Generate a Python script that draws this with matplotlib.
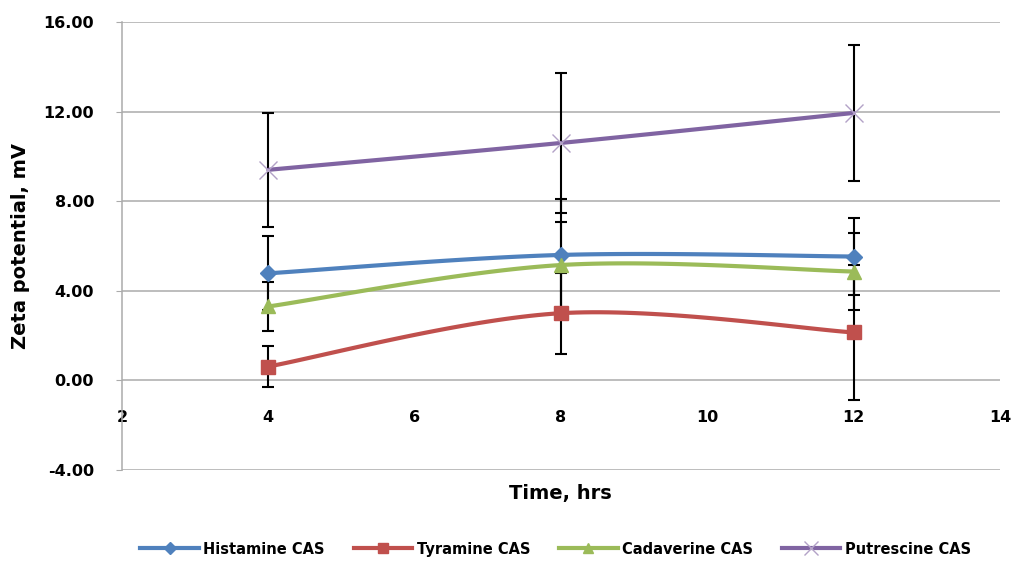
import matplotlib
matplotlib.use("Agg")
import matplotlib.pyplot as plt
import numpy as np
from matplotlib.lines import Line2D

# --- data ---------------------------------------------------------------
hours = [4, 8, 12]

histamine = [4.78, 5.60, 5.53]
tyramine = [0.62, 3.00, 2.14]
cadaverine = [3.30, 5.15, 4.86]
putrescine = [9.40, 10.60, 11.94]

histamine_err = [1.65, 2.50, 1.70]
tyramine_err = [0.90, 1.80, 3.00]
cadaverine_err = [1.10, 1.90, 1.70]
putrescine_err = [2.55, 3.13, 3.05]

names = ["Histamine CAS", "Tyramine CAS", "Cadaverine CAS", "Putrescine CAS"]
y_ticks = [-4, 0, 4, 8, 12, 16]
x_ticks = [2, 4, 6, 8, 10, 12, 14]

COLORS = ["#4F81BD", "#C0504D", "#9BBB59", "#8064A2"]
MARKERS = ["D", "s", "^", "x"]


def smooth(xs, ys, steps=40):
    """Excel-style smoothed line: cubic Bezier through the points."""
    p = np.column_stack([xs, ys]).astype(float)
    n = len(p)
    out = [p[:1]]
    t = np.linspace(0, 1, steps)[1:, None]
    for i in range(n - 1):
        prev = p[max(i - 1, 0)]
        nxt = p[min(i + 2, n - 1)]
        c1 = p[i] + (p[i + 1] - prev) / 6
        c2 = p[i + 1] - (nxt - p[i]) / 6
        seg = ((1 - t) ** 3 * p[i] + 3 * (1 - t) ** 2 * t * c1
               + 3 * (1 - t) * t ** 2 * c2 + t ** 3 * p[i + 1])
        out.append(seg)
    pts = np.vstack(out)
    return pts[:, 0], pts[:, 1]


fig = plt.figure(figsize=(10.14, 5.62), dpi=100)
ax = fig.add_axes([0.1203, 0.1637, 0.8659, 0.7972])

series = [histamine, tyramine, cadaverine, putrescine]
errors = [histamine_err, tyramine_err, cadaverine_err, putrescine_err]

for vals, err in zip(series, errors):
    ax.errorbar(hours, vals, yerr=err, fmt="none", ecolor="black",
                elinewidth=1.5, capsize=4.5, capthick=1.5, zorder=3)

handles = []
for vals, name, color, marker in zip(series, names, COLORS, MARKERS):
    sx, sy = smooth(hours, vals)
    ax.plot(sx, sy, color=color, linewidth=3, zorder=4, solid_capstyle="round")
    if marker == "x":
        mkw = dict(markersize=13, markeredgewidth=1.0, markeredgecolor="#B3A2C7")
    else:
        size = {"D": 8, "s": 10, "^": 10}[marker]
        mkw = dict(markersize=size, markerfacecolor=color, markeredgecolor=color)
    ax.plot(hours, vals, linestyle="none", marker=marker, zorder=5, **mkw)
    handles.append(Line2D([], [], color=color, linewidth=3, marker=marker,
                          **{k: (v * 0.75 if k == "markersize" else v)
                             for k, v in mkw.items()}))

ax.set_xlim(2, 14)
ax.set_ylim(-4, 16)
ax.set_yticks(y_ticks)
ax.set_yticklabels([f"{v:.2f}" for v in y_ticks])
ax.set_xticks(x_ticks)
ax.set_xticklabels([str(v) for v in x_ticks])

ax.grid(axis="y", color="#ABABAB", linewidth=1.1)
ax.set_axisbelow(True)
for side in ["top", "right"]:
    ax.spines[side].set_visible(False)
ax.spines["left"].set_color("#ABABAB")
ax.spines["left"].set_linewidth(1.1)
ax.spines["bottom"].set_position(("data", 0))
ax.spines["bottom"].set_visible(False)

ax.tick_params(axis="y", direction="out", length=4, color="#ABABAB",
               pad=16, labelsize=11.5)
ax.tick_params(axis="x", length=0, pad=21, labelsize=11.5)
for lab in ax.get_xticklabels() + ax.get_yticklabels():
    lab.set_fontweight("bold")

ax.set_ylabel("Zeta potential, mV", fontsize=14, fontweight="bold", labelpad=10)
fig.text(0.553, 0.122, "Time, hrs", fontsize=14, fontweight="bold",
         ha="center", va="center")

fig.legend(handles, names, loc="center", bbox_to_anchor=(0.548, 0.023),
           ncol=4, frameon=False, handlelength=4.0, columnspacing=2.0,
           handletextpad=0.3, prop={"size": 10.5, "weight": "bold"})

fig.savefig("out.png", dpi=100, facecolor="white")
